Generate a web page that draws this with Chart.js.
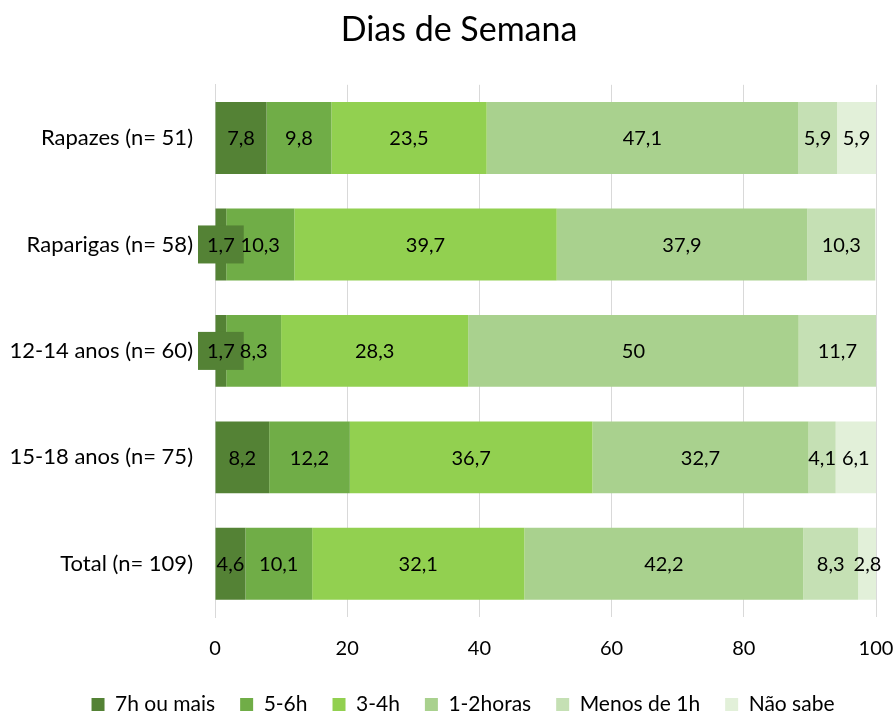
<!DOCTYPE html>
<html>
<head>
<meta charset="utf-8">
<script src="https://cdn.jsdelivr.net/npm/chart.js@4"></script>
<style>
  html, body { margin: 0; padding: 0; background: #fff; }
  #wrap { width: 896px; height: 713px; }
</style>
</head>
<body>
<div id="wrap"><canvas id="chart" width="896" height="713"></canvas></div>
<script>
// Dados do gráfico
const categorias = ['Rapazes (n= 51)', 'Raparigas (n= 58)', '12-14 anos (n= 60)', '15-18 anos (n= 75)', 'Total (n= 109)'];
const seteOuMais = [7.8, 1.7, 1.7, 8.2, 4.6];
const cincoSeis = [9.8, 10.3, 8.3, 12.2, 10.1];
const tresQuatro = [23.5, 39.7, 28.3, 36.7, 32.1];
const umaDuas = [47.1, 37.9, 50, 32.7, 42.2];
const menosDeUma = [5.9, 10.3, 11.7, 4.1, 8.3];
const naoSabe = [5.9, null, null, 6.1, 2.8];
const ticksX = [0, 20, 40, 60, 80, 100];

const fonte = 'Lato, "Open Sans", sans-serif';

// Rótulos de dados no centro de cada segmento (estilo Excel)
const rotulosPlugin = {
    id: 'rotulos',
    afterDatasetsDraw(chart) {
        const ctx = chart.ctx;
        ctx.save();
        ctx.font = '20px ' + fonte;
        ctx.textAlign = 'center';
        ctx.textBaseline = 'middle';
        chart.data.datasets.forEach((ds, i) => {
            const meta = chart.getDatasetMeta(i);
            meta.data.forEach((bar, j) => {
                const v = ds.data[j];
                if (v == null) return;
                const txt = String(v).replace('.', ',');
                const x = (bar.x + bar.base) / 2;
                const y = bar.y;
                const w = ctx.measureText(txt).width;
                const largura = Math.abs(bar.x - bar.base);
                if (w > largura + 6 && i === 0) {
                    // caixa com fundo quando o rótulo não cabe
                    ctx.fillStyle = ds.backgroundColor;
                    ctx.fillRect(x - w / 2 - 9, y - 19, w + 18, 38);
                }
                ctx.fillStyle = '#000';
                ctx.fillText(txt, x, y + 1);
            });
        });
        ctx.restore();
    }
};

// desloca um bloco (título / legenda) ao desenhar
function deslocar(box, dx, dy) {
    const drawOrig = box.draw;
    box.draw = function (area) {
        const c = this.ctx;
        c.save();
        c.translate(dx, dy);
        drawOrig.call(this, area);
        c.restore();
    };
}

// Legenda mais compacta na vertical (mantém o espaçamento horizontal)
const legendaPlugin = {
    id: 'legendaCompacta',
    beforeLayout(chart) {
        const lg = chart.legend;
        if (!lg || lg._compacta) return;
        lg._compacta = true;
        const fitOrig = lg.fit;
        lg.fit = function () { fitOrig.call(this); this.height -= 12; };
        deslocar(lg, 25, -12);
        if (chart.titleBlock) deslocar(chart.titleBlock, 21, 0);
    }
};

new Chart(document.getElementById('chart'), {
    type: 'bar',
    data: {
        labels: categorias,
        datasets: [
            { label: '7h ou mais', data: seteOuMais, backgroundColor: '#548235' },
            { label: '5-6h', data: cincoSeis, backgroundColor: '#70AD47' },
            { label: '3-4h', data: tresQuatro, backgroundColor: '#92D050' },
            { label: '1-2horas', data: umaDuas, backgroundColor: '#A9D18E' },
            { label: 'Menos de 1h', data: menosDeUma, backgroundColor: '#C5E0B4' },
            { label: 'Não sabe', data: naoSabe, backgroundColor: '#E2F0D9' }
        ]
    },
    options: {
        indexAxis: 'y',
        responsive: false,
        animation: false,
        layout: { padding: { left: 0, right: 20, top: 6, bottom: -12 } },
        datasets: { bar: { categoryPercentage: 0.675, barPercentage: 1 } },
        scales: {
            x: {
                stacked: true,
                min: 0,
                max: 100,
                afterBuildTicks(axis) { axis.ticks = ticksX.map(v => ({ value: v })); },
                afterFit(axis) { axis.paddingLeft = 0; axis.paddingRight = 0; },
                grid: { color: '#d9d9d9', lineWidth: 1, drawTicks: false },
                border: { display: false },
                ticks: { color: '#000', font: { size: 20, family: fonte }, padding: 20 }
            },
            y: {
                stacked: true,
                afterFit(axis) { axis.width = 215; },
                grid: { display: false, drawTicks: false },
                border: { display: true, color: '#d9d9d9', width: 1 },
                ticks: { color: '#000', font: { size: 22, family: fonte }, padding: 22 }
            }
        },
        plugins: {
            title: {
                display: true,
                text: 'Dias de Semana',
                color: '#000',
                font: { size: 34, family: fonte, weight: 'normal' },
                padding: { top: 4, bottom: 34 }
            },
            legend: {
                position: 'bottom',
                labels: {
                    color: '#000',
                    font: { size: 21, family: fonte },
                    boxWidth: 13,
                    boxHeight: 13,
                    padding: 25
                }
            },
            tooltip: { enabled: false }
        }
    },
    plugins: [rotulosPlugin, legendaPlugin]
});
</script>
</body>
</html>
